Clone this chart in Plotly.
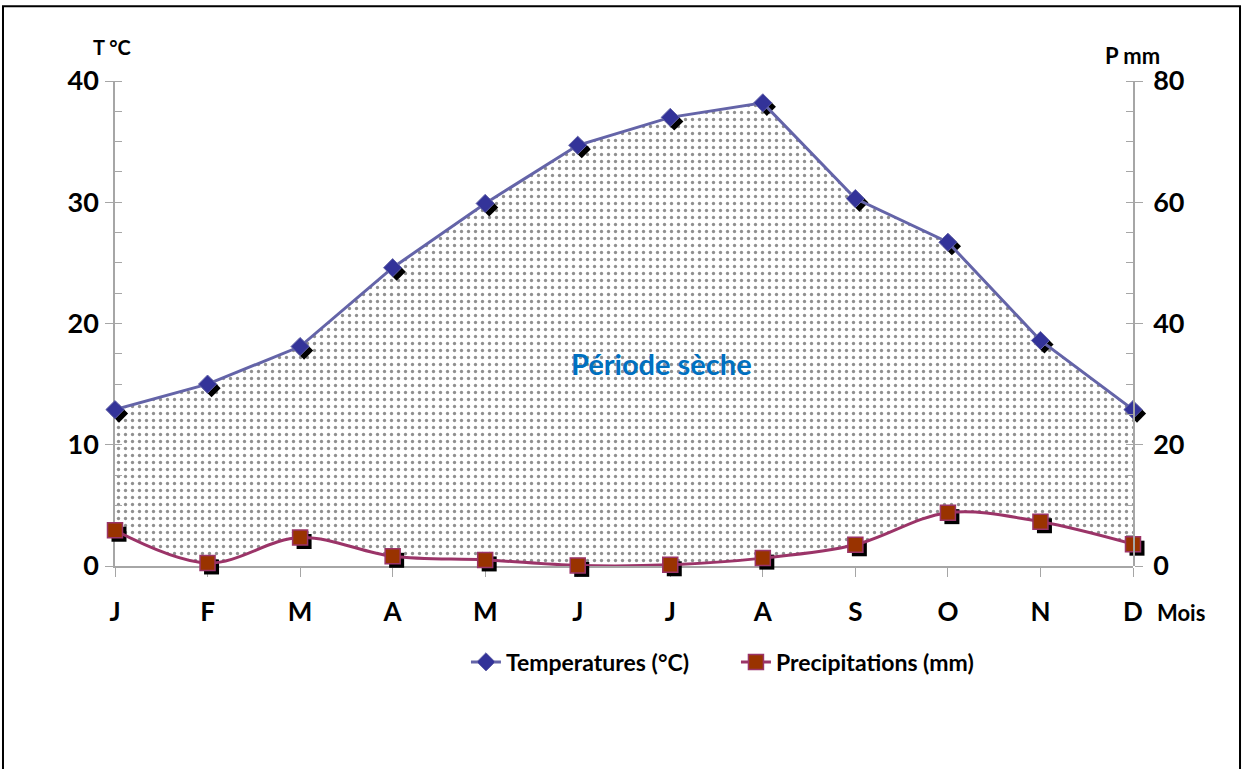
import plotly.graph_objects as go

# Ombrothermic diagram (Gaussen: P = 2T)
months = ["J", "F", "M", "A", "M", "J", "J", "A", "S", "O", "N", "D"]
temperature = [12.9, 15.0, 18.1, 24.6, 29.9, 34.7, 37.0, 38.2, 30.3, 26.7, 18.6, 12.9]
precipitation = [5.9, 0.5, 4.7, 1.6, 1.0, 0.1, 0.2, 1.3, 3.5, 8.8, 7.3, 3.6]
temp_ticks = [0, 10, 20, 30, 40]
prec_ticks = [0, 20, 40, 60, 80]

x = list(range(len(months)))
# precipitation expressed on the temperature scale (P = 2T) for the dry-period fill
prec_on_t = [p / 2 for p in precipitation]

TEMP_LINE = "#6464A8"
TEMP_MARK = "#333399"
PREC_LINE = "#9B3468"
PREC_MARK = "#993300"
AXIS = "#A6A6A6"
FONT = "Lato"

# plot area 1022 x 489 px; the chart uses 1018 x 485, shadows sit 4 px right/down
W, H = 1022, 489
sx = 4 / W
sy = 4 / H

fig = go.Figure()

# dry period fill
fig.add_trace(go.Scatter(x=x, y=prec_on_t, mode="lines", line=dict(width=0, shape="spline"),
                         showlegend=False, hoverinfo="skip", xaxis="x", yaxis="y"))
fig.add_trace(go.Scatter(x=x, y=temperature, mode="lines", line=dict(width=0),
                         fill="tonexty", fillcolor="white",
                         fillpattern=dict(shape=".", fgcolor="#222222", bgcolor="white",
                                          size=7, solidity=0.18),
                         showlegend=False, hoverinfo="skip", xaxis="x", yaxis="y"))

# marker shadows (separate subplot shifted by a few pixels)
fig.add_trace(go.Scatter(x=x, y=temperature, mode="markers",
                         marker=dict(symbol="diamond", size=14, color="black"),
                         cliponaxis=False, showlegend=False, hoverinfo="skip",
                         xaxis="x2", yaxis="y3"))
fig.add_trace(go.Scatter(x=x, y=precipitation, mode="markers",
                         marker=dict(symbol="square", size=15, color="black"),
                         cliponaxis=False, showlegend=False, hoverinfo="skip",
                         xaxis="x2", yaxis="y4"))

# real series
fig.add_trace(go.Scatter(x=x, y=temperature, mode="lines+markers", name="Temperatures (°C)",
                         line=dict(color=TEMP_LINE, width=3),
                         marker=dict(symbol="diamond", size=14, color=TEMP_MARK,
                                     line=dict(color=TEMP_LINE, width=1)),
                         cliponaxis=False, xaxis="x3", yaxis="y5"))
fig.add_trace(go.Scatter(x=x, y=precipitation, mode="lines+markers", name="Precipitations (mm)",
                         line=dict(color=PREC_LINE, width=3, shape="spline"),
                         marker=dict(symbol="square", size=15, color=PREC_MARK,
                                     line=dict(color=PREC_LINE, width=1.5)),
                         cliponaxis=False, xaxis="x3", yaxis="y6"))

hidden = dict(visible=False, showgrid=False, zeroline=False)

fig.update_layout(
    width=1247, height=769,
    margin=dict(l=115, r=110, t=81, b=199),
    paper_bgcolor="white", plot_bgcolor="rgba(0,0,0,0)",
    font=dict(family=FONT, color="black"),
    showlegend=True,
    legend=dict(orientation="h", traceorder="normal", x=0.3434, xanchor="left",
                y=-0.188, yanchor="middle",
                font=dict(size=23, family=FONT, weight="bold"), entrywidth=225,
                bgcolor="rgba(0,0,0,0)"),
    xaxis=dict(domain=[0, 1 - sx], range=[0, 11], tickvals=x, ticktext=months,
               showgrid=False, zeroline=False,
               showline=True, linecolor=AXIS, linewidth=1.5, ticks="outside", ticklen=9,
               tickcolor=AXIS, ticklabelstandoff=13,
               tickfont=dict(size=26, family=FONT, weight="bold")),
    yaxis=dict(domain=[sy, 1], range=[0, 40], tickvals=temp_ticks, showgrid=False,
               zeroline=False,
               showline=True, linecolor=AXIS, linewidth=1.5, ticks="outside", ticklen=8,
               tickcolor=AXIS, ticklabelstandoff=1,
               tickfont=dict(size=27, family=FONT, weight="bold"),
               minor=dict(dtick=2.5, ticks="inside", ticklen=7, tickcolor=AXIS)),
    xaxis2=dict(domain=[sx, 1], range=[0, 11], anchor="y3", **hidden),
    yaxis3=dict(domain=[0, 1 - sy], range=[0, 40], anchor="x2", **hidden),
    yaxis4=dict(range=[0, 80], overlaying="y3", anchor="x2", **hidden),
    xaxis3=dict(domain=[0, 1 - sx], range=[0, 11], anchor="y5", **hidden),
    yaxis5=dict(domain=[sy, 1], range=[0, 40], anchor="x3", **hidden),
    yaxis6=dict(range=[0, 80], tickvals=prec_ticks, overlaying="y5", side="right", anchor="x3",
                showgrid=False, zeroline=False, showline=True, linecolor=AXIS, linewidth=1.5,
                ticks="outside", ticklen=8, tickcolor=AXIS, ticklabelstandoff=5,
                tickfont=dict(size=27, family=FONT, weight="bold"),
                minor=dict(dtick=5, ticks="inside", ticklen=7, tickcolor=AXIS)),
)

fig.add_annotation(x=5.9, y=16.7, xref="x", yref="y", text="Période sèche", showarrow=False,
                   font=dict(size=29, color="#0070C0", family=FONT, weight="bold"))
fig.add_annotation(x=-0.003, y=1.0695, xref="paper", yref="paper", text="T °C", showarrow=False,
                   xanchor="center", yanchor="middle",
                   font=dict(size=20, family=FONT, weight="bold"))
fig.add_annotation(x=0.996, y=1.053, xref="paper", yref="paper", text="P mm", showarrow=False,
                   xanchor="center", yanchor="middle",
                   font=dict(size=22, family=FONT, weight="bold"))
fig.add_annotation(x=1.0176, y=-0.0859, xref="paper", yref="paper", text="Mois", showarrow=False,
                   xanchor="left", yanchor="middle",
                   font=dict(size=22, family=FONT, weight="bold"))

# outer frame
fig.add_shape(type="rect", xref="paper", yref="paper", x0=-0.1096, x1=1.1008, y0=-0.45, y1=1.153,
              line=dict(color="black", width=2), fillcolor="rgba(0,0,0,0)", layer="below")

fig.write_html("out.html", config={"displayModeBar": False},
               post_script="document.body.style.margin='0';")
